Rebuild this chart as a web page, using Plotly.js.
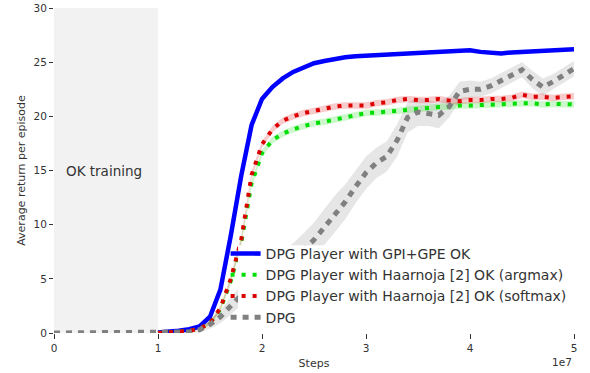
<!DOCTYPE html>
<html>
<head>
<meta charset="utf-8">
<script src="https://cdn.plot.ly/plotly-3.0.1.min.js"></script>
<style>html,body{margin:0;padding:0;background:#fff;}#chart{width:590px;height:373px;}</style>
</head>
<body>
<div id="chart"></div>
<script>
// x in units of 1e7 steps
const steps = [1.0,1.1,1.2,1.3,1.4,1.5,1.6,1.7,1.8,1.9,2.0,2.1,2.2,2.3,2.4,2.5,2.6,2.7,2.8,2.9,3.0,
  3.1,3.2,3.3,3.4,3.5,3.6,3.7,3.8,3.9,4.0,4.1,4.2,4.3,4.4,4.5,4.6,4.7,4.8,4.9,5.0];
const gpiGpe = [0.05,0.1,0.2,0.35,0.6,1.5,4.0,9.0,14.5,19.2,21.6,22.7,23.5,24.1,24.5,24.9,25.1,25.3,25.45,25.55,25.6,
  25.65,25.7,25.65,25.75,25.8,25.85,25.9,26.0,26.05,26.1,25.95,25.85,25.8,25.9,25.95,26.0,26.05,26.15,26.1,26.2];
const haarArgmax = [0.0,0.05,0.1,0.2,0.4,0.9,2.2,4.8,8.3,13.8,16.6,17.8,18.4,18.8,19.1,19.35,19.5,19.7,19.9,20.1,20.3,
  20.35,20.4,20.5,20.6,20.7,20.8,20.85,20.9,21.0,21.0,21.05,21.1,21.1,21.15,21.2,21.2,21.1,21.15,21.1,21.1];
const haarSoftmax = [0.0,0.05,0.1,0.2,0.4,0.9,2.3,5.0,8.6,14.6,17.4,18.8,19.6,20.0,20.3,20.5,20.7,20.9,21.0,21.0,21.0,
  21.2,21.3,21.5,21.6,21.5,21.5,21.6,21.45,21.4,21.5,21.5,21.6,21.6,21.7,22.0,21.8,21.8,21.7,21.8,21.85];
const haarStd = [0,0,0.02,0.05,0.1,0.15,0.2,0.25,0.3,0.3,0.3,0.3,0.3,0.3,0.3,0.3,0.3,0.3,0.3,0.3,0.3,
  0.3,0.3,0.3,0.3,0.3,0.3,0.3,0.3,0.3,0.3,0.3,0.3,0.3,0.3,0.3,0.3,0.3,0.3,0.3,0.3];
const dpgSteps = [0.0,1.0,1.1,1.2,1.3,1.4,1.5,1.6,1.7,1.8,1.9,2.0,2.1,2.2,2.3,2.4,2.5,2.6,2.7,2.8,2.9,3.0,
  3.1,3.2,3.3,3.4,3.5,3.6,3.7,3.8,3.9,4.0,4.1,4.2,4.3,4.4,4.5,4.6,4.7,4.8,4.9,5.0];
const dpg = [0.0,0.0,0.0,0.05,0.1,0.3,0.8,1.5,2.5,3.5,4.3,5.0,5.7,6.4,7.0,7.7,8.6,9.8,11.0,12.1,13.5,14.8,
  15.7,16.3,17.8,19.9,20.4,20.3,20.1,20.9,22.3,22.5,22.5,22.8,23.3,23.8,24.3,23.4,22.7,23.2,23.8,24.4];
const dpgStd = [0,0,0,0.05,0.1,0.2,0.4,0.6,0.8,0.9,1.0,1.0,1.1,1.2,1.3,1.5,1.6,1.7,1.7,1.6,1.5,1.5,
  1.4,1.4,1.5,1.4,1.3,1.2,1.2,1.0,0.9,0.8,0.7,0.7,0.7,0.7,0.7,0.8,0.8,0.7,0.7,0.7];
const trainingSpan = [0, 1];
const seriesNames = ["DPG Player with GPI+GPE OK","DPG Player with Haarnoja [2] OK (argmax)",
  "DPG Player with Haarnoja [2] OK (softmax)","DPG"];
const xTicks = [0,1,2,3,4,5];
const yTicks = [0,5,10,15,20,25,30];

function band(x, m, s, color) {
  const lo = m.map((v,i)=>v-s[i]), hi = m.map((v,i)=>v+s[i]);
  return [
    {x:x, y:lo, mode:'lines', line:{width:0,color:color}, showlegend:false, hoverinfo:'skip'},
    {x:x, y:hi, mode:'lines', line:{width:0,color:color}, fill:'tonexty', fillcolor:color, showlegend:false, hoverinfo:'skip'}
  ];
}

const traces = [
  ...band(dpgSteps, dpg, dpgStd, 'rgba(128,128,128,0.2)'),
  ...band(steps, haarArgmax, haarStd, 'rgba(0,220,0,0.2)'),
  ...band(steps, haarSoftmax, haarStd, 'rgba(220,0,0,0.2)'),
  {x:steps, y:gpiGpe, mode:'lines', name:seriesNames[0], line:{color:'#0000ff', width:4.5}},
  {x:steps, y:haarArgmax, mode:'lines', name:seriesNames[1], line:{color:'#00dd00', width:4, dash:'4px,7px'}},
  {x:steps, y:haarSoftmax, mode:'lines', name:seriesNames[2], line:{color:'#dd0000', width:4, dash:'4px,7px'}},
  {x:dpgSteps, y:dpg, mode:'lines', name:seriesNames[3], line:{color:'#808080', width:5, dash:'6px,6px'}}
];

const font = {family:'DejaVu Sans, sans-serif', color:'#333333'};
const layout = {
  width:590, height:373,
  margin:{l:54, r:16, t:8, b:40},
  paper_bgcolor:'#ffffff', plot_bgcolor:'#ffffff',
  font:{family:font.family, size:11, color:font.color},
  showlegend:true,
  legend:{x:0.33, y:0.0, xanchor:'left', yanchor:'bottom', bgcolor:'rgba(0,0,0,0)', traceorder:'normal',
    font:{family:font.family, size:14, color:'#333333'}, tracegroupgap:0, itemwidth:30},
  xaxis:{range:[0,5], tickvals:xTicks, ticktext:xTicks.map(String), ticks:'outside', ticklen:5,
    tickcolor:'#333333', showgrid:false, zeroline:false, showline:false,
    tickfont:{size:10.5}, title:{text:'Steps', font:{size:11}, standoff:6}},
  yaxis:{range:[0,30], tickvals:yTicks, ticktext:yTicks.map(String), ticks:'outside', ticklen:4,
    tickcolor:'#333333', showgrid:false, zeroline:false, showline:false,
    tickfont:{size:10.5}, title:{text:'Average return per episode', font:{size:11}, standoff:5}},
  shapes:[
    {type:'rect', xref:'x', yref:'y', x0:trainingSpan[0], x1:trainingSpan[1], y0:0, y1:30,
      fillcolor:'#f2f2f2', line:{width:0}, layer:'below'},
    // legend background (covers curves behind the legend, as in the reference)
    {type:'rect', xref:'paper', yref:'paper', x0:0.354, x1:0.995, y0:0.02, y1:0.27,
      fillcolor:'#ffffff', line:{width:0}, layer:'above'}
  ],
  annotations:[
    {text:'OK training', xref:'x', yref:'y', x:0.1, y:15, xanchor:'left', yanchor:'middle', showarrow:false,
      font:{size:13.5, color:'#333333'}},
    {text:'1e7', xref:'paper', yref:'paper', x:1.0, y:-0.065, xanchor:'right', yanchor:'top', showarrow:false,
      font:{size:10.5, color:'#333333'}}
  ]
};
Plotly.newPlot('chart', traces, layout, {displayModeBar:false, staticPlot:true});
</script>
</body>
</html>
